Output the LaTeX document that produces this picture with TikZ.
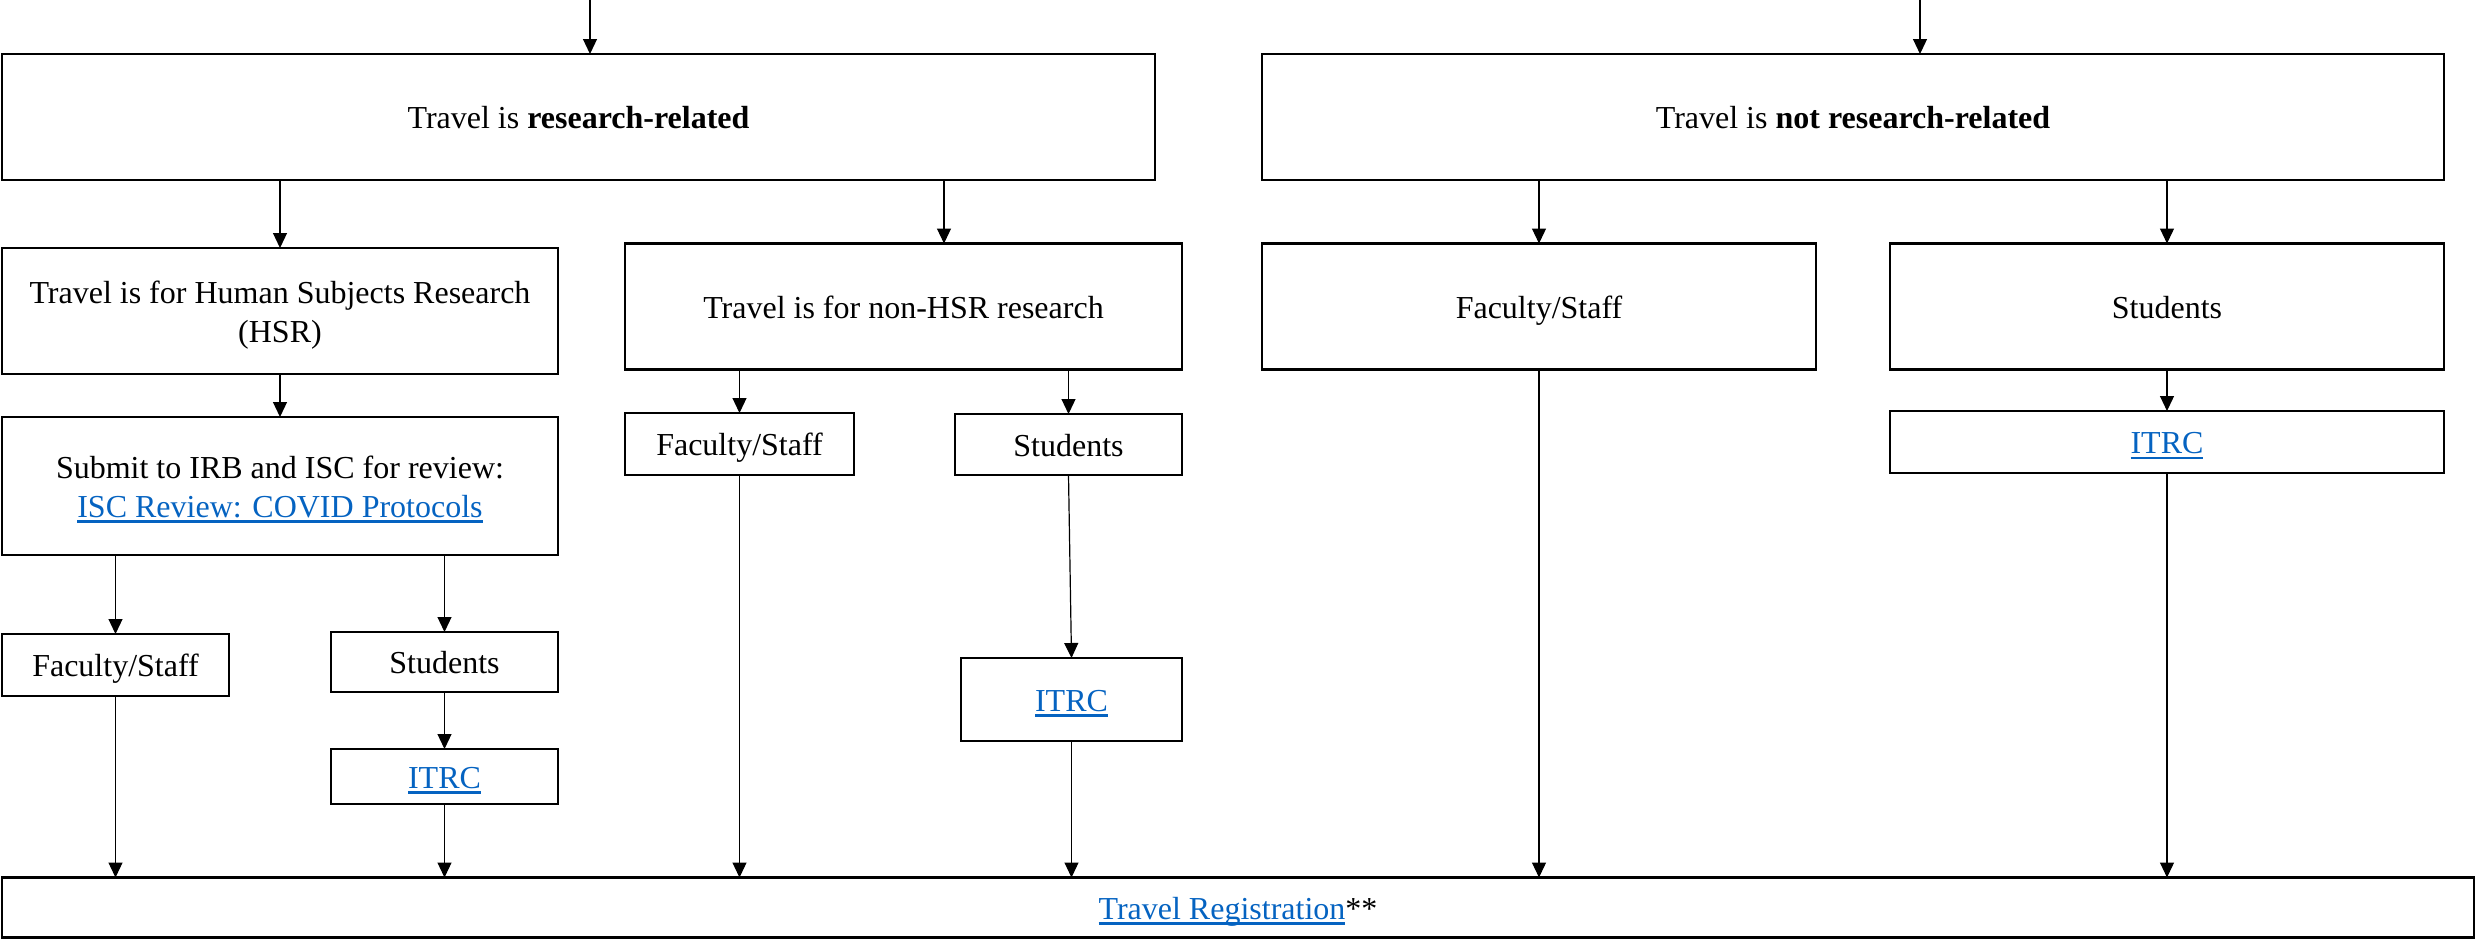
\documentclass[tikz,border=0pt]{standalone}
\usepackage{fontspec}
\setmainfont{Liberation Serif}
\usetikzlibrary{arrows.meta}
\definecolor{linkblue}{HTML}{0563C1}
\newcommand{\lnk}[1]{{\color{linkblue}\setbox0\hbox{#1}\rlap{\rule[-5.5pt]{\wd0}{2.6pt}}\box0}}
\newcommand{\tstrut}{\rule[-7pt]{0pt}{37.5pt}}
\tikzset{
  box/.style={draw, line width=2.5pt, inner sep=0pt, outer sep=0pt, align=center,
    font=\fontsize{32}{38.5}\selectfont},
  arr/.style={line width=1.2pt, -{Triangle[length=15pt,width=14pt]}}
}
\begin{document}
\begin{tikzpicture}[x=1pt,y=-1pt]
\useasboundingbox (0,0) rectangle (2476,938);
% top level
\node[box, minimum width=1153pt, minimum height=126pt] (rr) at (578.5,117) {\tstrut Travel is \textbf{research-related}};
\node[box, minimum width=1182pt, minimum height=126pt] (nrr) at (1853,117) {\tstrut Travel is \textbf{not research-related}};
% second level
\node[box, minimum width=556pt, minimum height=126pt] (hsr) at (280,311) {\tstrut Travel is for Human Subjects Research\\\tstrut(HSR)};
\node[box, minimum width=557pt, minimum height=126pt] (nhsr) at (903.5,306.5) {\tstrut Travel is for non-HSR research};
\node[box, minimum width=554pt, minimum height=126pt] (fs3) at (1539,306.5) {\tstrut Faculty/Staff};
\node[box, minimum width=554pt, minimum height=126pt] (st3) at (2167,306.5) {\tstrut Students};
% third level
\node[box, minimum width=556pt, minimum height=138pt] (sub) at (280,486) {\tstrut Submit to IRB and ISC for review:\\\tstrut\lnk{ISC Review: COVID Protocols}};
\node[box, minimum width=229pt, minimum height=62pt] (fs2) at (739.5,444) {\tstrut Faculty/Staff};
\node[box, minimum width=227pt, minimum height=61pt] (st2) at (1068.5,444.5) {\tstrut Students};
\node[box, minimum width=554pt, minimum height=62pt] (it3) at (2167,442) {\tstrut\lnk{ITRC}};
% fourth level
\node[box, minimum width=227pt, minimum height=62pt] (fs1) at (115.5,665) {\tstrut Faculty/Staff};
\node[box, minimum width=227pt, minimum height=60pt] (st1) at (444.5,662) {\tstrut Students};
\node[box, minimum width=227pt, minimum height=55pt] (it1) at (444.5,776.5) {\tstrut\lnk{ITRC}};
\node[box, minimum width=221pt, minimum height=83pt] (it2) at (1071.5,699.5) {\tstrut\lnk{ITRC}};
% bottom
\node[box, minimum width=2472pt, minimum height=60pt] (reg) at (1238,907.5) {\tstrut\lnk{Travel Registration}**};
% incoming arrows
\coordinate (t1) at (590,0);
\coordinate (t2) at (1920,0);
\coordinate (xa) at (944,0);
\draw[arr] (t1) -- (rr.north -| t1);
\draw[arr] (t2) -- (nrr.north -| t2);
% from research-related
\draw[arr] (rr.south -| hsr.north) -- (hsr.north);
\draw[arr] (rr.south -| xa) -- (nhsr.north -| xa);
% HSR branch
\draw[arr] (hsr.south) -- (sub.north);
\draw[arr] (sub.south -| fs1.north) -- (fs1.north);
\draw[arr] (sub.south -| st1.north) -- (st1.north);
\draw[arr] (st1.south) -- (it1.north);
\draw[arr] (fs1.south) -- (reg.north -| fs1.south);
\draw[arr] (it1.south) -- (reg.north -| it1.south);
% non-HSR branch
\draw[arr] (nhsr.south -| fs2.north) -- (fs2.north);
\draw[arr] (nhsr.south -| st2.north) -- (st2.north);
\draw[arr] (st2.south) -- (it2.north);
\draw[arr] (fs2.south) -- (reg.north -| fs2.south);
\draw[arr] (it2.south) -- (reg.north -| it2.south);
% not research-related
\draw[arr] (nrr.south -| fs3.north) -- (fs3.north);
\draw[arr] (nrr.south -| st3.north) -- (st3.north);
\draw[arr] (st3.south) -- (it3.north);
\draw[arr] (fs3.south) -- (reg.north -| fs3.south);
\draw[arr] (it3.south) -- (reg.north -| it3.south);
\end{tikzpicture}
\end{document}
